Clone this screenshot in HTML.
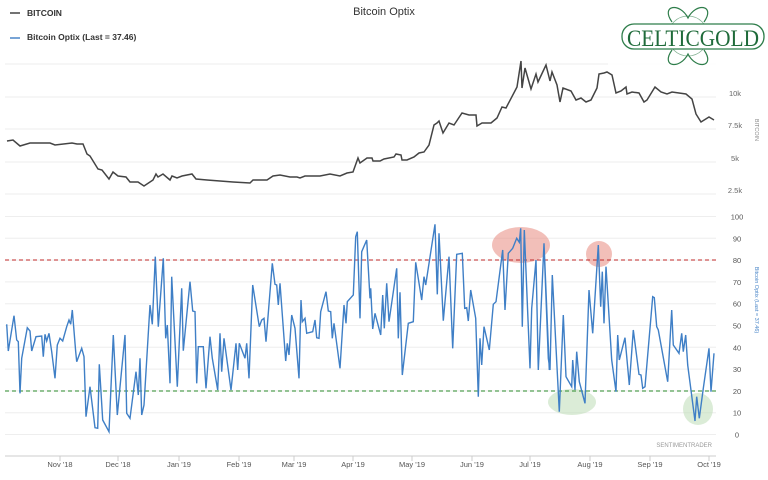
<!DOCTYPE html>
<html><head><meta charset="utf-8"><style>
body{margin:0;background:#fff;}
svg{display:block;font-family:"Liberation Sans",sans-serif;}
</style></head><body>
<svg id="c" width="768" height="480" xmlns="http://www.w3.org/2000/svg">
<rect width="768" height="480" fill="#fff"/>
<text x="384" y="15" font-size="11" text-anchor="middle" fill="#333">Bitcoin Optix</text>
<line x1="10" y1="13" x2="20" y2="13" stroke="#444" stroke-width="1.5"/>
<text x="27" y="16" font-size="8.5" font-weight="bold" fill="#333">BITCOIN</text>
<line x1="10" y1="38" x2="20" y2="38" stroke="#4a86c8" stroke-width="1.5"/>
<text x="27" y="40" font-size="8.5" font-weight="bold" fill="#333">Bitcoin Optix (Last = 37.46)</text>
<g stroke="#eee" stroke-width="1">
<line x1="5" y1="64" x2="716" y2="64"/><line x1="5" y1="97" x2="716" y2="97"/><line x1="5" y1="129" x2="716" y2="129"/><line x1="5" y1="162" x2="716" y2="162"/><line x1="5" y1="194" x2="716" y2="194"/>
</g>
<g id="bg" stroke="#eee" stroke-width="1"></g>
<g font-size="7.5" fill="#666" text-anchor="middle">
<text x="735" y="96">10k</text><text x="735" y="128">7.5k</text><text x="735" y="161">5k</text><text x="735" y="193">2.5k</text>
</g>
<text transform="translate(755,130) rotate(90)" font-size="5.5" fill="#888" text-anchor="middle">BITCOIN</text>
<text transform="translate(755,300) rotate(90)" font-size="5.5" fill="#4a86c8" text-anchor="middle">Bitcoin Optix (Last = 37.46)</text>
<g id="yl" font-size="7.5" fill="#555" text-anchor="middle"></g>
<ellipse cx="521" cy="245" rx="29" ry="18" fill="#e88a80" opacity="0.55"/>
<circle cx="599" cy="254" r="13" fill="#e88a80" opacity="0.55"/>
<ellipse cx="572" cy="402" rx="24" ry="13" fill="#b8dab0" opacity="0.5"/>
<ellipse cx="698" cy="409" rx="15" ry="16" fill="#b8dab0" opacity="0.5"/>
<line x1="5" y1="260" x2="716" y2="260" stroke="#c0282a" stroke-width="1" stroke-dasharray="4,3"/>
<line x1="5" y1="391" x2="716" y2="391" stroke="#2a8a2a" stroke-width="1" stroke-dasharray="4,3"/>
<line x1="5" y1="456" x2="716" y2="456" stroke="#ccc" stroke-width="1"/>
<g id="xt" font-size="7.5" fill="#555" text-anchor="middle"></g>
<text x="712" y="447" font-size="6" fill="#999" text-anchor="end">SENTIMENTRADER</text>
<path id="price" fill="none" stroke="#444" stroke-width="1.5"/>
<path id="optix" fill="none" stroke="#3f7fc6" stroke-width="1.4"/>
<g transform="translate(0,0)">
<rect x="608" y="5" width="156" height="65" fill="#fff" opacity="0.85"/>
<path d="M672 22 C660 5,680 2,688 18 C696 2,716 5,704 22 M672 50 C660 67,680 70,688 54 C696 70,716 67,704 50" fill="none" stroke="#2e7d4a" stroke-width="1.2"/>
<circle cx="688" cy="36" r="20" fill="none" stroke="#2e7d4a" stroke-width="0.8" opacity="0.6"/>
<rect x="622" y="24" width="142" height="25" rx="12" fill="#fff" stroke="#2e7d4a" stroke-width="1.3"/>
<text x="693" y="46" font-family="Liberation Serif,serif" font-size="23" fill="#1f6b3a" text-anchor="middle" textLength="132" lengthAdjust="spacingAndGlyphs">CELTICGOLD</text>
</g>
</svg>
<script>
var bg=document.getElementById('bg'),yl=document.getElementById('yl'),xt=document.getElementById('xt');
var ns='http://www.w3.org/2000/svg';
function el(t,a,p,txt){var e=document.createElementNS(ns,t);for(var k in a)e.setAttribute(k,a[k]);if(txt)e.textContent=txt;p.appendChild(e);}
for(var i=0;i<=10;i++){var y=434.5-i*21.8;el('line',{x1:5,y1:y,x2:716,y2:y},bg);el('text',{x:737,y:y+3},yl,String(i*10));}
var months=[["Nov '18",60],["Dec '18",118],["Jan '19",179],["Feb '19",239],["Mar '19",294],["Apr '19",353],["May '19",412],["Jun '19",472],["Jul '19",530],["Aug '19",590],["Sep '19",650],["Oct '19",709]];
months.forEach(function(m){el('line',{x1:m[1],y1:456,x2:m[1],y2:461,stroke:'#ccc'},xt);el('text',{x:m[1],y:467},xt,m[0]);});
var pr=[7,141,13,140,20,146,30,143,50,143,55,145,72,143,77,144,83,144,87,154,90,156,98,169,102,170,109,179,113,172,118,176,126,177,130,182,138,182,144,186,153,180,156,174,158,177,163,174,170,180,172,176,177,178,182,176,192,174,196,179,207,180,220,181,233,182,250,183,253,180,267,180,273,176,280,175,290,177,297,177,300,178,305,176,320,176,330,174,340,176,347,173,353,172,358,158,360,163,367,158,372,158,373,161,380,161,384,159,
394,157,396,154,401,155,402,160,407,160,414,157,419,153,424,152,429,145,434,125,437,123,439,121,443,133,449,123,454,125,462,113,469,115,476,115,477,126,482,123,491,123,497,118,502,107,506,108,517,87,521,61,522,88,525,68,531,89,536,74,538,82,546,65,550,81,552,72,557,85,560,102,563,88,571,91,576,100,581,98,586,102,591,100,597,88,599,74,604,73,607,72,612,75,616,93,621,91,626,87,627,94,632,92,639,93,644,102,647,100,655,87,661,92,667,94,672,92,686,94,692,99,696,114,701,122,709,117,714,120];
var d='';for(var i=0;i<pr.length;i+=2)d+=(i?'L':'M')+pr[i]+' '+pr[i+1];
document.getElementById('price').setAttribute('d',d);
var z=[[0,[20,358,25,438,42,332,50,405,55,410,60,565,65,460,82,368,90,378,95,438,108,395,125,393,130,455,135,388,140,408,147,385,155,440,165,520,172,420,180,400,188,408,200,365,207,345,212,358,217,315,227,440,230,470,245,430,252,455,258,635,270,545,285,668,293,670,298,478,308,645,327,680,340,390,352,630,375,390,380,625,390,640,408,500,415,570,420,460,425,630,432,600,450,300,457,358,466,155,475,365,490,160,497,400,502,360,510,535,515,215,532,545,545,250,550,437,570,230]],
[180,[38,318,45,320,50,535,55,425,70,425,78,550,90,395,97,460,113,555,120,385,125,500,132,400,153,555,168,415,173,495,178,415,195,460,200,415,207,520,218,240,238,365,245,345,252,340,258,410,277,175,285,238,290,240,295,300,300,235,317,468,322,415,327,450,335,330,345,370,357,520,363,285,367,350,375,340,380,385,398,380,405,345,410,398,417,400,422,320,438,260,445,318,452,320,457,400,462,355,480,490,492,300,498,355,502,290,520,270,527,95,532,80,540,340,545,140,560,105,570,280]],
[360,[32,250,38,372,45,325,62,390,68,270,73,370,80,235,87,350,110,190,115,400,120,262,127,510,145,355,160,350,167,172,185,285,192,215,197,240,225,58,232,268,237,85,250,347,267,155,278,430,290,148,307,145,314,310,320,308,325,348,332,255,347,340,355,575,360,400,365,480,372,365,388,435,400,298,408,290,428,135,435,315,445,145,458,130,470,100,478,112,482,70,487,365,493,75,510,490,515,310,528,165,535,495,552,115,568,495]],
[540,[12,118,25,460,30,495,37,210,58,620,70,330,78,515,95,545,98,465,105,555,110,440,118,530,135,595,147,255,158,385,175,120,182,305,187,200,192,355,198,185,215,465,228,560,233,390,238,465,255,398,268,540,280,375,297,508,303,510,308,550,315,545,338,275,343,278,350,365,355,375,383,530,395,315,400,420,417,445,425,385,430,440,437,390,443,480,465,648,470,575,478,640,490,550,507,430,513,560,522,445]]];
d='';var f=true;
z.forEach(function(s){var o=s[0],a=s[1];for(var i=0;i<a.length;i+=2){d+=(f?'M':'L')+(o+a[i]/3).toFixed(1)+' '+(205+a[i+1]/3).toFixed(1);f=false;}});
document.getElementById('optix').setAttribute('d',d);
</script>
</body></html>
